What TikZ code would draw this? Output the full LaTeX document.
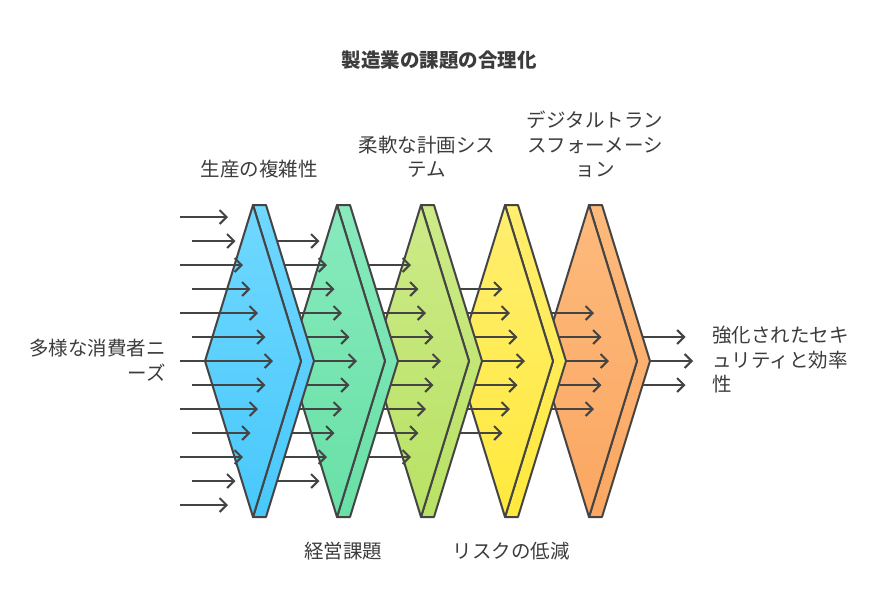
\documentclass[tikz,border=0pt]{standalone}
\usepackage{fontspec}
\usepackage{xcolor}
\newfontfamily\jp{Noto Sans CJK JP}
\usetikzlibrary{arrows.meta}
\definecolor{ink}{HTML}{444444}
\definecolor{txt}{HTML}{3C3C3C}
\definecolor{blT}{HTML}{70D8FF}
\definecolor{blB}{HTML}{48C8FB}
\definecolor{grT}{HTML}{88EABD}
\definecolor{grB}{HTML}{68E0A6}
\definecolor{lgT}{HTML}{CDEA88}
\definecolor{lgB}{HTML}{B8E264}
\definecolor{yeT}{HTML}{FFEE70}
\definecolor{yeB}{HTML}{FFE93C}
\definecolor{orT}{HTML}{FDBA7C}
\definecolor{orB}{HTML}{FBA762}

\begin{document}
\begin{tikzpicture}[x=1pt,y=-1pt,
    lbl/.style={font=\jp\fontsize{19.5}{24.5}\selectfont, text=txt, inner sep=0pt, align=center},
    ttl/.style={font=\jp\bfseries\fontsize{19.5}{24.5}\selectfont, text=txt, inner sep=0pt},
    arr/.style={draw=ink, line width=2pt, -{Straight Barb[length=7pt,width=14pt]}},
    face/.style={draw=ink, line width=2pt, line join=round}]
	\useasboundingbox (0,0) rectangle (878,614);
	% stages, drawn right to left
	\foreach \i/\ct/\cb in {4/orT/orB, 3/yeT/yeB, 2/lgT/lgB, 1/grT/grB, 0/blT/blB}{
		\pgfmathsetmacro{\tx}{253+84*\i}
		\path[face, top color=\ct, bottom color=\cb] (\tx,205) -- (\tx+13,205) -- (\tx+61,361) -- (\tx+13,517) -- (\tx,517) -- (\tx+48,361) -- cycle;
		\path[face, top color=\ct, bottom color=\cb] (\tx,205) -- (\tx-48,361) -- (\tx,517) -- (\tx+48,361) -- cycle;
	}
	% arrows
	\foreach \s in {0,...,5}{
		\pgfmathtruncatemacro{\nr}{6-\s}
		\foreach \k in {-\nr,...,\nr}{
			\pgfmathsetmacro{\yy}{361+24*\k}
			\pgfmathsetmacro{\xt}{253+84*\s+20-7.5*abs(\k)}
			\ifnum\s=0 \pgfmathsetmacro{\xs}{180+12*mod(abs(\k),2)}
			\else \pgfmathsetmacro{\xs}{253+84*(\s-1)+61-48*24*abs(\k)/156}\fi
			\draw[arr] (\xs,\yy) -- (\xt,\yy);
		}
	}
	\node[ttl] (title) at (439,60) {製造業の課題の合理化};
	\node[lbl, anchor=south] (cx) at (259,178) {生産の複雑性};
	\node[lbl, anchor=south] (fs) at (427,178) {柔軟な計画シス\\テム};
	\node[lbl, anchor=south] (dx) at (595,178) {デジタルトラン\\スフォーメーシ\\ョン};
	\node[lbl, anchor=north] (mg) at (343,542) {経営課題};
	\node[lbl, anchor=north] (rk) at (511,542) {リスクの低減};
	\node[lbl, anchor=east, align=right] (nd) at (166,360) {多様な消費者ニ\\ーズ};
	\node[lbl, anchor=west, align=left] (ef) at (712,360) {強化されたセキ\\ュリティと効率\\性};
\end{tikzpicture}
\end{document}
